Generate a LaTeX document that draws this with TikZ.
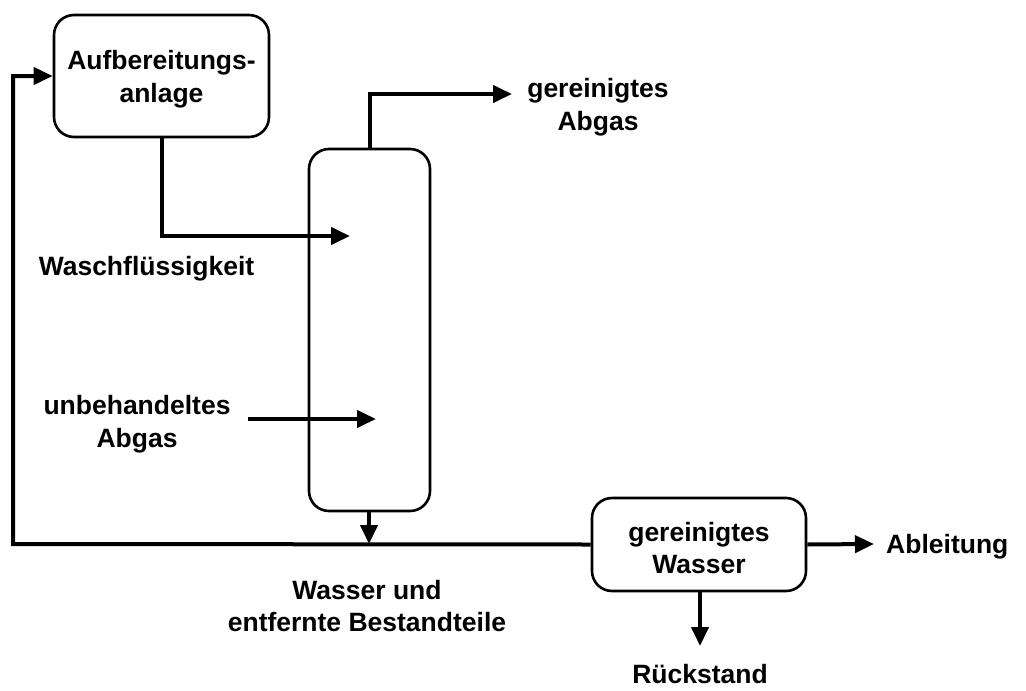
\documentclass[tikz,border=0pt]{standalone}
\usepackage{fontspec}
\setmainfont{Liberation Sans}
\usetikzlibrary{arrows.meta}
\begin{document}
\begin{tikzpicture}[x=1pt,y=-1pt,
  lbl/.style={font=\fontsize{26.5}{32.5}\selectfont\bfseries, align=center, inner sep=0pt},
  unit/.style={draw, line width=2.6pt, rounded corners=20pt, inner sep=0pt},
  flow/.style={line width=4pt, -{Triangle[length=19pt,width=17pt]}}]
\useasboundingbox (0,0) rectangle (1026,691);
% units
\node[unit, minimum width=215pt, minimum height=122pt] (abox) at (161.5,76) {};
\node[lbl] (atext) at (161.5,79) {Aufbereitungs-\\anlage};
\node[unit, minimum width=121pt, minimum height=362pt] (col) at (369.5,330) {};
\node[unit, minimum width=214pt, minimum height=93pt] (wbox) at (699,544.5) {};
\node[lbl] (wtext) at (699,548) {gereinigtes\\Wasser};
% labels
\node[lbl] (gabgas) at (598,107) {gereinigtes\\Abgas};
\node[lbl] (wasch) at (146.5,269) {Waschflüssigkeit};
\node[lbl] (unbeh) at (137,424) {unbehandeltes\\Abgas};
\node[lbl] (wasser) at (367,606) {Wasser und\\entfernte Bestandteile};
\node[lbl, anchor=west] (ablt) at (886,547) {Ableitung};
\node[lbl] (rueck) at (700,674) {Rückstand};
% coordinates
\coordinate (topout) at (370,94);
\coordinate (gaend) at (512,94);
\coordinate (wcorner) at (162,236);
\coordinate (wend) at (350,236);
\coordinate (ustart) at (248,419);
\coordinate (uend) at (376,419);
\coordinate (junc) at (369,544);
\coordinate (lbot) at (13,544);
\coordinate (ltop) at (13,76);
\coordinate (ablend) at (874,544);
\coordinate (rend) at (700,646);
% connectors
\draw[flow] (col.north -| topout) -- (topout) -- (gaend);
\draw[flow] (abox.south -| wcorner) -- (wcorner) -- (wend);
\draw[flow] (ustart) -- (uend);
\draw[flow] (col.south -| junc) -- (junc);
\draw[flow] (wbox.west) -- (lbot) -- (ltop) -- (abox.west);
\draw[flow] (wbox.east) -- (ablend);
\draw[flow] (wbox.south -| rend) -- (rend);
\end{tikzpicture}
\end{document}
